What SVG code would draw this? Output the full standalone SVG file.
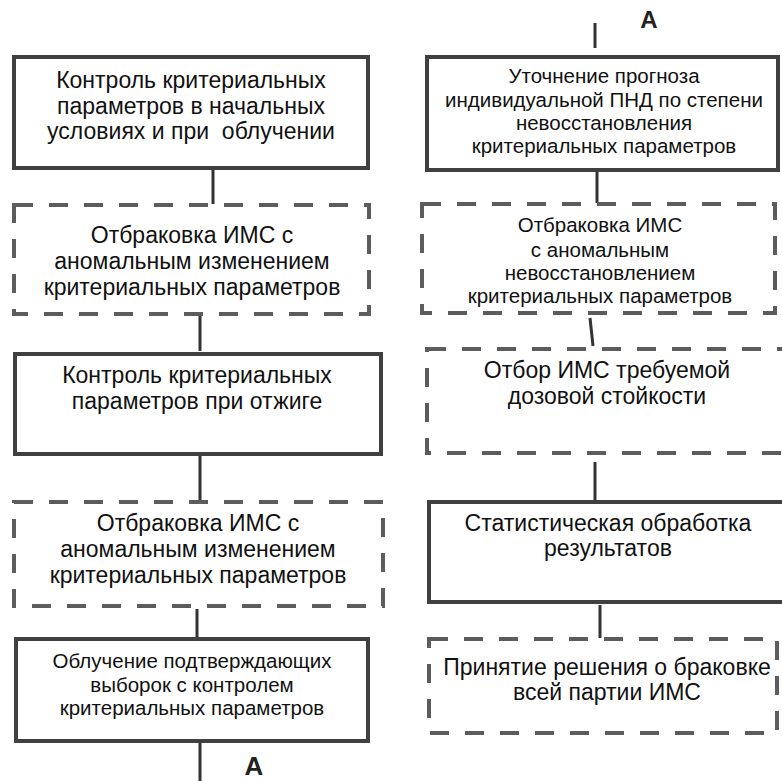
<svg xmlns="http://www.w3.org/2000/svg" width="782" height="781" viewBox="0 0 782 781">
<style>
.solid{fill:#fff;stroke:#404040;stroke-width:4}
.dash{fill:#fff;stroke:#5c5c5c;stroke-width:4;stroke-dasharray:19 16}
.t{font-family:"Liberation Sans",Arial,sans-serif;fill:#111;text-anchor:middle;white-space:pre}
.l{font-size:23px}
.s{font-size:20.5px}
.a{font-family:"Liberation Sans",Arial,sans-serif;font-weight:bold;fill:#222;text-anchor:middle}
.c{stroke:#333;stroke-width:3;fill:none}
</style>
<rect width="782" height="781" fill="#fff"/>
<g id="connectors">
<line class="c" x1="213" y1="170" x2="213" y2="204"/>
<line class="c" x1="200" y1="316" x2="200" y2="351"/>
<line class="c" x1="200" y1="456" x2="200" y2="500"/>
<line class="c" x1="197" y1="609" x2="197" y2="638"/>
<line class="c" x1="200" y1="743" x2="200" y2="781"/>
<line class="c" x1="595" y1="23" x2="595" y2="48"/>
<line class="c" x1="597" y1="172" x2="597" y2="203"/>
<line class="c" x1="590" y1="318" x2="593" y2="346"/>
<line class="c" x1="595" y1="462" x2="595" y2="501"/>
<line class="c" x1="600" y1="605" x2="600" y2="638"/>
</g>
<g id="labelA1"><text class="a" x="649" y="28" font-size="24">A</text></g>
<g id="labelA2"><text class="a" x="254" y="775" font-size="26">A</text></g>
<g id="n1">
<rect class="solid" x="14" y="57" width="354" height="111"/>
<text class="t l" x="191" y="88">Контроль критериальных</text>
<text class="t l" x="191" y="114">параметров в начальных</text>
<text class="t l" x="191" y="139" xml:space="preserve">условиях и при  облучении</text>
</g>
<g id="n2">
<rect class="dash" x="14" y="205" width="355" height="109"/>
<text class="t l" x="192" y="243">Отбраковка ИМС с</text>
<text class="t l" x="192" y="269">аномальным изменением</text>
<text class="t l" x="192" y="295">критериальных параметров</text>
</g>
<g id="n3">
<rect class="solid" x="15" y="354" width="366" height="100"/>
<text class="t l" x="197" y="383">Контроль критериальных</text>
<text class="t l" x="197" y="409">параметров при отжиге</text>
</g>
<g id="n4">
<rect class="dash" x="14" y="502" width="369" height="104"/>
<text class="t l" x="198" y="531">Отбраковка ИМС с</text>
<text class="t l" x="198" y="557">аномальным изменением</text>
<text class="t l" x="198" y="583">критериальных параметров</text>
</g>
<g id="n5">
<rect class="solid" x="16" y="639" width="352" height="102"/>
<text class="t s" x="192" y="668">Облучение подтверждающих</text>
<text class="t s" x="192" y="692">выборок с контролем</text>
<text class="t s" x="192" y="715">критериальных параметров</text>
</g>
<g id="r1">
<rect class="solid" x="427" y="57" width="351" height="113"/>
<text class="t s" x="604" y="83">Уточнение прогноза</text>
<text class="t s" x="604" y="107">индивидуальной ПНД по степени</text>
<text class="t s" x="604" y="130">невосстановления</text>
<text class="t s" x="604" y="153">критериальных параметров</text>
</g>
<g id="r2">
<rect class="dash" x="422" y="204" width="353" height="109"/>
<text class="t s" x="600" y="232">Отбраковка ИМС</text>
<text class="t s" x="600" y="257">с аномальным</text>
<text class="t s" x="600" y="280">невосстановлением</text>
<text class="t s" x="600" y="303">критериальных параметров</text>
</g>
<g id="r3">
<rect class="dash" x="427" y="349" width="370" height="104"/>
<text class="t l" x="607" y="378">Отбор ИМС требуемой</text>
<text class="t l" x="607" y="404">дозовой стойкости</text>
</g>
<g id="r4">
<rect class="solid" x="429" y="502" width="370" height="100"/>
<text class="t l" x="608" y="531">Статистическая обработка</text>
<text class="t l" x="608" y="556">результатов</text>
</g>
<g id="r5">
<rect class="dash" x="429" y="639" width="348" height="94"/>
<text class="t l" x="607" y="675">Принятие решения о браковке</text>
<text class="t l" x="607" y="700">всей партии ИМС</text>
</g>
</svg>
